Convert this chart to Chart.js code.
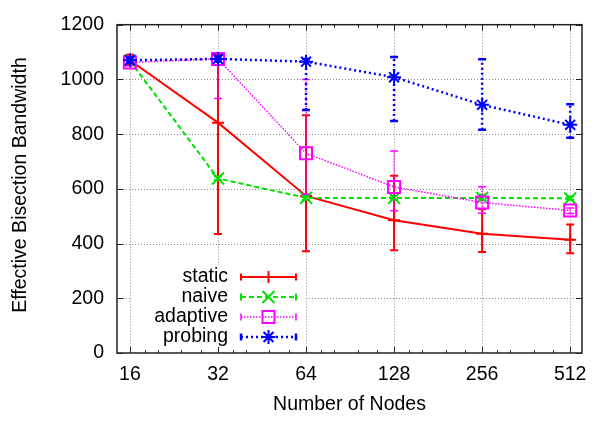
<!DOCTYPE html>
<html>
<head>
<meta charset="utf-8">
<script src="https://cdn.jsdelivr.net/npm/chart.js@4/dist/chart.umd.min.js"></script>
<style>
  html, body { margin: 0; padding: 0; background: #fff; }
  #wrap { width: 601px; height: 421px; }
</style>
</head>
<body>
<div id="wrap"><canvas id="chart" width="601" height="421"></canvas></div>
<script>
// x categories (number of nodes) and y ticks
const nodes = [16, 32, 64, 128, 256, 512];
const yTicks = [0, 200, 400, 600, 800, 1000, 1200];

// series values + error bar ranges
const staticVals = [1070, 842, 574, 485, 436, 414];
const staticLow  = [1055, 435, 372, 376, 369, 365];
const staticHigh = [1090, 1090, 869, 648, 525, 470];

const naiveVals = [1068, 638, 567, 567, 567, 565];
const naiveLow  = [1062, 632, 560, 560, 558, 560];
const naiveHigh = [1075, 645, 575, 575, 578, 572];

const adaptiveVals = [1062, 1075, 730, 607, 550, 521];
const adaptiveLow  = [1050, 930, 580, 520, 511, 510];
const adaptiveHigh = [1075, 1085, 1000, 738, 608, 530];

const probingVals = [1070, 1075, 1065, 1008, 907, 834];
const probingLow  = [1060, 1065, 888, 848, 816, 787];
const probingHigh = [1080, 1085, 1075, 1082, 1074, 909];

const FONT = '"Liberation Sans", Arial, sans-serif';
const FSIZE = 19.5;

const series = [
  { label: 'static', vals: staticVals, low: staticLow, high: staticHigh,
    color: '#ff0000', width: 2, dash: [], point: 'cross', radius: 6 },
  { label: 'naive', vals: naiveVals, low: naiveLow, high: naiveHigh,
    color: '#00e000', width: 2, dash: [5, 3], point: 'crossRot', radius: 8.5 },
  { label: 'adaptive', vals: adaptiveVals, low: adaptiveLow, high: adaptiveHigh,
    color: '#ff00ff', width: 1.5, dash: [1.5, 1.5], point: 'rect', radius: 8.5 },
  { label: 'probing', vals: probingVals, low: probingLow, high: probingHigh,
    color: '#0000ff', width: 2.5, dash: [2, 3], point: 'star', radius: 7 }
];

const datasets = series.map((s, i) => ({
  label: s.label,
  data: nodes.map((n, j) => ({ x: n, y: s.vals[j] })),
  borderColor: s.color,
  backgroundColor: 'rgba(0,0,0,0)',
  borderWidth: s.width,
  borderDash: s.dash,
  pointStyle: s.point,
  pointRadius: s.radius,
  pointBorderWidth: 2,
  pointBorderColor: s.color,
  pointBackgroundColor: 'rgba(0,0,0,0)',
  fill: false,
  tension: 0,
  order: series.length - i
}));

function marker(ctx, style, r, x, y) {
  ctx.beginPath();
  if (style === 'cross' || style === 'star') {
    ctx.moveTo(x - r, y); ctx.lineTo(x + r, y);
    ctx.moveTo(x, y - r); ctx.lineTo(x, y + r);
  }
  if (style === 'crossRot' || style === 'star') {
    const d = r * Math.SQRT1_2;
    ctx.moveTo(x - d, y - d); ctx.lineTo(x + d, y + d);
    ctx.moveTo(x - d, y + d); ctx.lineTo(x + d, y - d);
  }
  if (style === 'rect') {
    const d = r * Math.SQRT1_2;
    ctx.rect(x - d, y - d, 2 * d, 2 * d);
  }
  ctx.stroke();
}

function gridDots(ctx, x1, y1, x2, y2) {
  ctx.beginPath();
  ctx.moveTo(x1, y1);
  ctx.lineTo(x2, y2);
  ctx.stroke();
}

const framePlugin = {
  id: 'frame',
  beforeDatasetsDraw(chart) {
    const { ctx, chartArea: a, scales } = chart;
    ctx.save();
    ctx.strokeStyle = '#8a8a8a';
    ctx.lineWidth = 1;
    ctx.setLineDash([1, 2]);
    nodes.forEach(n => {
      const x = Math.round(scales.x.getPixelForValue(n)) + 0.5;
      gridDots(ctx, x, a.top, x, a.bottom);
    });
    yTicks.slice(1, -1).forEach(v => {
      const y = Math.round(scales.y.getPixelForValue(v)) + 0.5;
      gridDots(ctx, a.left, y, a.right, y);
    });
    // key box is opaque in the original
    ctx.fillStyle = '#fff';
    ctx.fillRect(131, 265, 174, a.bottom - 265);
    ctx.restore();
  },
  afterDatasetDraw(chart, args) {
    const s = series[args.index];
    const { ctx, scales } = chart;
    ctx.save();
    ctx.beginPath();
    ctx.rect(chart.chartArea.left, chart.chartArea.top,
      chart.chartArea.right - chart.chartArea.left, chart.chartArea.bottom - chart.chartArea.top);
    ctx.clip();
    ctx.strokeStyle = s.color;
    ctx.lineWidth = s.width;
    nodes.forEach((n, j) => {
      const x = scales.x.getPixelForValue(n);
      const yl = scales.y.getPixelForValue(s.low[j]);
      const yh = scales.y.getPixelForValue(s.high[j]);
      ctx.setLineDash(s.dash);
      ctx.beginPath();
      ctx.moveTo(x, yl); ctx.lineTo(x, yh);
      ctx.stroke();
      ctx.setLineDash([]);
      ctx.beginPath();
      ctx.moveTo(x - 4, yl); ctx.lineTo(x + 4, yl);
      ctx.moveTo(x - 4, yh); ctx.lineTo(x + 4, yh);
      ctx.stroke();
    });
    ctx.restore();
  },
  afterDraw(chart) {
    const { ctx, chartArea: a, scales } = chart;
    ctx.save();
    // border
    ctx.strokeStyle = '#222';
    ctx.lineWidth = 1.5;
    ctx.strokeRect(a.left, a.top, a.right - a.left, a.bottom - a.top);
    // inward ticks
    ctx.lineWidth = 1;
    ctx.beginPath();
    nodes.forEach((n, i) => {
      const x = Math.round(scales.x.getPixelForValue(n)) + 0.5;
      ctx.moveTo(x, a.bottom); ctx.lineTo(x, a.bottom - 6);
      ctx.moveTo(x, a.top); ctx.lineTo(x, a.top + 6);
      if (i < nodes.length - 1) {
        [1.125, 1.25, 1.5, 1.75].forEach(f => {
          const xm = Math.round(scales.x.getPixelForValue(n * f)) + 0.5;
          ctx.moveTo(xm, a.bottom); ctx.lineTo(xm, a.bottom - 3);
          ctx.moveTo(xm, a.top); ctx.lineTo(xm, a.top + 3);
        });
      }
    });
    yTicks.forEach(v => {
      const y = Math.round(scales.y.getPixelForValue(v)) + 0.5;
      ctx.moveTo(a.left, y); ctx.lineTo(a.left + 6, y);
      ctx.moveTo(a.right, y); ctx.lineTo(a.right - 6, y);
    });
    ctx.stroke();

    // axis titles
    ctx.fillStyle = '#000';
    ctx.font = FSIZE + 'px ' + FONT;
    ctx.textAlign = 'center';
    ctx.textBaseline = 'middle';
    ctx.fillText('Number of Nodes', (a.left + a.right) / 2, 405);
    ctx.save();
    ctx.translate(21, 185);
    ctx.rotate(-Math.PI / 2);
    ctx.fillText('Effective Bisection Bandwidth', 0, 0);
    ctx.restore();

    // key
    series.forEach((s, i) => {
      const y = 277 + i * 20;
      ctx.fillStyle = '#000';
      ctx.textAlign = 'right';
      ctx.fillText(s.label, 228, y);
      ctx.strokeStyle = s.color;
      ctx.lineWidth = s.width;
      ctx.setLineDash(s.dash);
      ctx.beginPath();
      ctx.moveTo(241, y); ctx.lineTo(296, y);
      ctx.stroke();
      ctx.setLineDash([]);
      ctx.beginPath();
      ctx.moveTo(241, y - 3.5); ctx.lineTo(241, y + 3.5);
      ctx.moveTo(296, y - 3.5); ctx.lineTo(296, y + 3.5);
      ctx.stroke();
      ctx.lineWidth = 2;
      marker(ctx, s.point, s.radius, 268.5, y);
    });
    ctx.restore();
  }
};

new Chart(document.getElementById('chart'), {
  type: 'line',
  data: { datasets: datasets },
  options: {
    responsive: false,
    animation: false,
    layout: { padding: { left: 0, right: 19, top: 8, bottom: 0 } },
    plugins: { legend: { display: false }, tooltip: { enabled: false } },
    scales: {
      x: {
        type: 'logarithmic',
        min: 14.45,
        max: 562,
        afterBuildTicks: s => { s.ticks = nodes.map(v => ({ value: v })); },
        afterFit: s => { s.height = 68; },
        grid: { display: false, drawTicks: false },
        border: { display: false },
        ticks: {
          color: '#000',
          font: { family: FONT, size: FSIZE },
          padding: 10,
          maxRotation: 0,
          autoSkip: false,
          callback: v => String(v)
        }
      },
      y: {
        min: 0,
        max: 1200,
        afterBuildTicks: s => { s.ticks = yTicks.map(v => ({ value: v })); },
        afterFit: s => { s.width = 117; },
        grid: { display: false, drawTicks: false },
        border: { display: false },
        ticks: {
          color: '#000',
          font: { family: FONT, size: FSIZE },
          padding: 13,
          callback: v => String(v)
        }
      }
    }
  },
  plugins: [framePlugin]
});
</script>
</body>
</html>
